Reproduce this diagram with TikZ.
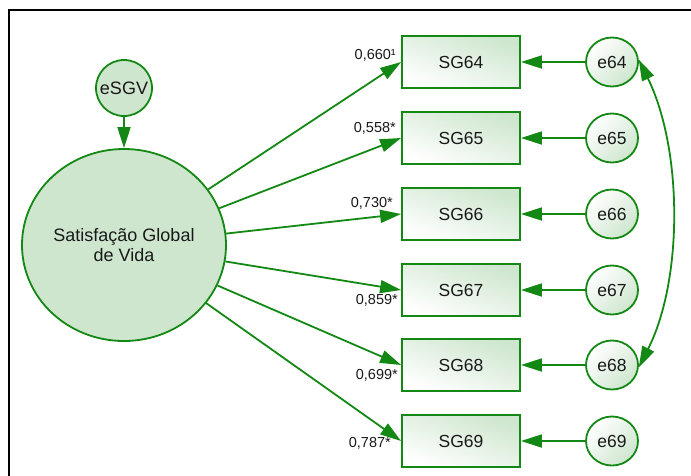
\documentclass[tikz,border=0pt]{standalone}
\usepackage{fontspec}
\setmainfont{Liberation Sans}
\usetikzlibrary{arrows.meta,shapes.geometric}
\definecolor{semgreen}{RGB}{20,136,20}
\definecolor{semfill}{RGB}{206,230,206}
\definecolor{semtxt}{RGB}{25,25,25}
\begin{document}
\begin{tikzpicture}[x=1pt,y=-1pt,
  conn/.style={draw=semgreen,line width=1.8pt,-{Triangle[length=21pt,width=13pt]}},
  conn2/.style={draw=semgreen,line width=1.8pt,{Triangle[length=21pt,width=13pt]}-{Triangle[length=21pt,width=13pt]}},
  latent/.style={ellipse,draw=semgreen,line width=1.8pt,fill=semfill,minimum width=204pt,minimum height=192pt,inner sep=0pt,align=center,text=semtxt,font=\fontsize{18}{20}\selectfont},
  errc/.style={circle,draw=semgreen,line width=1.8pt,fill=semfill,minimum size=56pt,inner sep=0pt,text=semtxt,font=\fontsize{18}{20}\selectfont},
  obs/.style={rectangle,draw=semgreen,line width=1.8pt,left color=semfill,right color=white,shading angle=-20,minimum width=118pt,minimum height=52pt,inner sep=0pt,text=semtxt,font=\fontsize{17.5}{20}\selectfont},
  err/.style={ellipse,draw=semgreen,line width=1.8pt,top color=white,bottom color=semfill,shading angle=45,minimum width=52pt,minimum height=49pt,inner sep=0pt,text=semtxt,font=\fontsize{17.5}{20}\selectfont},
  lab/.style={anchor=east,inner sep=0pt,text=semtxt,font=\fontsize{14.5}{16}\selectfont}]
\useasboundingbox (0,0) rectangle (691,475);
\draw[line width=2pt,black] (9,485) -- (9,10) -- (700,10);
\node[latent] (F) at (124,245) {Satisfação Global\\de Vida};
\node[errc] (eSGV) at (124,88) {eSGV};
\draw[conn] (eSGV) -- (F);
\foreach \i/\y in {64/62,65/138,66/214,67/290,68/365,69/441}{
  \node[obs] (SG\i) at (461,\y) {SG\i};
  \node[err] (e\i) at (612,\y) {e\i};
  \draw[conn] (e\i) -- (SG\i);
  \draw[conn] (F) -- (SG\i.west);
}
\draw[conn2] (e64.5) .. controls (683,150) and (683,280) .. (e68.-5);
\node[lab] (l64) at (396,55) {0,660¹};
\node[lab] (l65) at (396,128) {0,558*};
\node[lab] (l66) at (393,203) {0,730*};
\node[lab] (l67) at (398,300) {0,859*};
\node[lab] (l68) at (398,375) {0,699*};
\node[lab] (l69) at (391,443) {0,787*};
\end{tikzpicture}
\end{document}
